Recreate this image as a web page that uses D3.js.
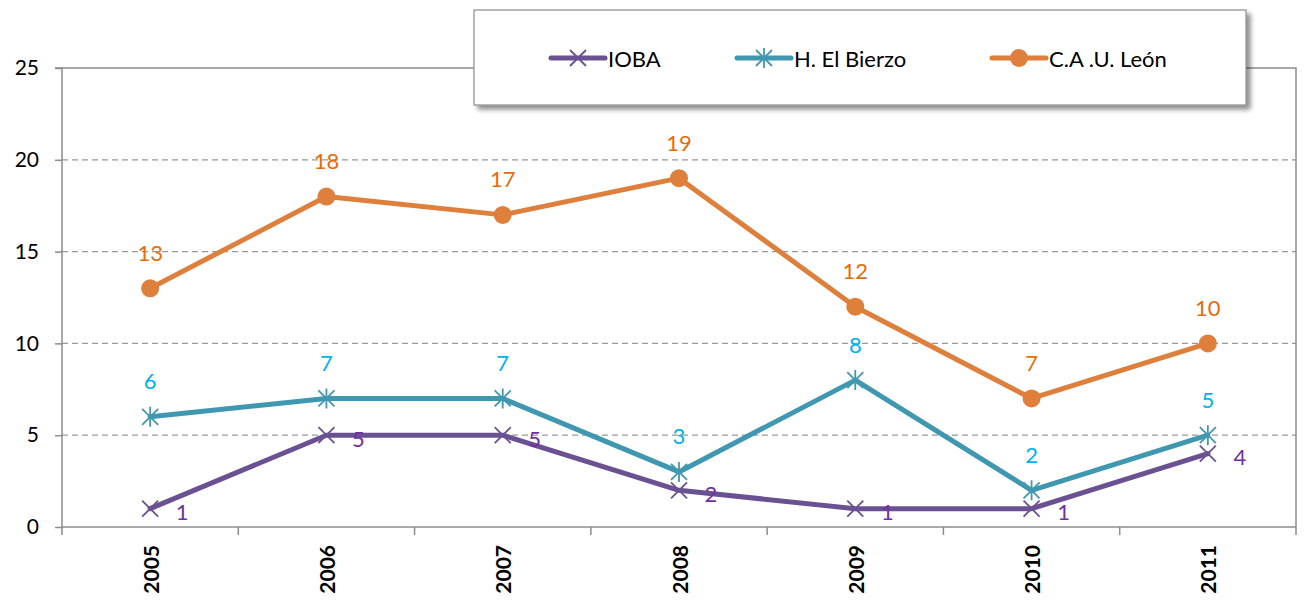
<!DOCTYPE html>
<html>
<head>
<meta charset="utf-8">
<script src="https://cdn.jsdelivr.net/npm/d3@7"></script>
<style>
  html, body { margin: 0; padding: 0; background: #fff; }
  svg { display: block; font-family: Lato, "Open Sans", sans-serif; }
</style>
</head>
<body>
<svg id="chart" width="1307" height="601"></svg>
<script>
// Yearly counts per centre
const years = ["2005", "2006", "2007", "2008", "2009", "2010", "2011"];
const ioba = [1, 5, 5, 2, 1, 1, 4];
const bierzo = [6, 7, 7, 3, 8, 2, 5];
const caul = [13, 18, 17, 19, 12, 7, 10];
const yTicks = [0, 5, 10, 15, 20, 25];

const series = [
  { name: "IOBA", values: ioba, line: "#6a5192", label: "#7030a0", marker: "x" },
  { name: "H. El Bierzo", values: bierzo, line: "#3f98b0", label: "#00b0f0", marker: "star" },
  { name: "C.A .U. León", values: caul, line: "#de7f3b", label: "#e46c0a", marker: "circle" }
];

const svg = d3.select("#chart");
const plot = { left: 62, right: 1296, top: 68, bottom: 527 };

const x = d3.scaleBand().domain(years).range([plot.left, plot.right]);
const y = d3.scaleLinear().domain([0, 25]).range([plot.bottom, plot.top]);
const cx = d => x(d) + x.bandwidth() / 2;

// dashed horizontal gridlines
svg.append("g").selectAll("line")
  .data(yTicks.filter(t => t > 0 && t < 25))
  .join("line")
  .attr("x1", plot.left).attr("x2", plot.right)
  .attr("y1", d => y(d)).attr("y2", d => y(d))
  .attr("stroke", "#999").attr("stroke-width", 1.3)
  .attr("stroke-dasharray", "6,4");

// plot frame (top and right)
svg.append("path")
  .attr("d", `M${plot.left},${plot.top}H${plot.right}V${plot.bottom + 8}`)
  .attr("fill", "none").attr("stroke", "#8c8c8c").attr("stroke-width", 1.5);

// y axis
const yAxis = svg.append("g")
  .attr("transform", `translate(${plot.left},0)`)
  .call(d3.axisLeft(y).tickValues(yTicks).tickSize(7).tickPadding(16));
yAxis.select(".domain").attr("stroke", "#8c8c8c").attr("stroke-width", 1.5)
  .attr("d", `M-7,${plot.top}H0V${plot.bottom + 8}`);
yAxis.selectAll(".tick line").attr("stroke", "#8c8c8c").attr("stroke-width", 1.5);
yAxis.selectAll(".tick text").attr("font-size", 21).attr("fill", "#000")
  .attr("font-family", "Lato, sans-serif");

// x axis with ticks between categories
const xAxis = svg.append("g").attr("transform", `translate(0,${plot.bottom})`);
xAxis.append("line").attr("x1", plot.left).attr("x2", plot.right)
  .attr("stroke", "#8c8c8c").attr("stroke-width", 1.5);
xAxis.selectAll(".sep").data(years.slice(1)).join("line")
  .attr("x1", d => x(d)).attr("x2", d => x(d))
  .attr("y1", 0).attr("y2", 8)
  .attr("stroke", "#8c8c8c").attr("stroke-width", 1.5);
xAxis.selectAll("text").data(years).join("text")
  .attr("transform", d => `translate(${cx(d)},18) rotate(-90)`)
  .attr("text-anchor", "end").attr("dominant-baseline", "central")
  .attr("font-size", 21).attr("font-weight", "bold").attr("fill", "#000")
  .text(d => d);

const line = d3.line().x((v, i) => cx(years[i])).y(v => y(v));

function drawMarker(g, type, color, px, py) {
  if (type === "x") {
    const s = 8;
    g.append("path").attr("d", `M${px - s},${py - s}L${px + s},${py + s}M${px - s},${py + s}L${px + s},${py - s}`)
      .attr("stroke", color).attr("stroke-width", 1.8).attr("fill", "none");
  } else if (type === "star") {
    const s = 8;
    g.append("path").attr("d", `M${px - s},${py - s}L${px + s},${py + s}M${px - s},${py + s}L${px + s},${py - s}M${px},${py - s - 2}L${px},${py + s + 2}`)
      .attr("stroke", color).attr("stroke-width", 1.8).attr("fill", "none");
  } else {
    g.append("circle").attr("cx", px).attr("cy", py).attr("r", 9).attr("fill", color);
  }
}

// series lines, markers and value labels
series.forEach(s => {
  const g = svg.append("g");
  g.append("path").datum(s.values).attr("d", line)
    .attr("fill", "none").attr("stroke", s.line).attr("stroke-width", 5)
    .attr("stroke-linejoin", "round").attr("stroke-linecap", "round");
  s.values.forEach((v, i) => drawMarker(g, s.marker, s.line, cx(years[i]), y(v)));
  g.selectAll("text").data(s.values).join("text")
    .attr("x", (v, i) => s.marker === "x" ? cx(years[i]) + 32 : cx(years[i]))
    .attr("y", v => s.marker === "x" ? y(v) + 3 : y(v) - 36)
    .attr("text-anchor", "middle").attr("dominant-baseline", "central")
    .attr("font-size", 22).attr("fill", s.label)
    .text(v => v);
});

// legend box with drop shadow
const defs = svg.append("defs");
const f = defs.append("filter").attr("id", "shadow").attr("x", "-5%").attr("y", "-20%").attr("width", "115%").attr("height", "150%");
f.append("feGaussianBlur").attr("in", "SourceAlpha").attr("stdDeviation", 2.5);
f.append("feOffset").attr("dx", 4).attr("dy", 4).attr("result", "b");
f.append("feComponentTransfer").append("feFuncA").attr("type", "linear").attr("slope", 0.45);
const fm = f.append("feMerge");
fm.append("feMergeNode");
fm.append("feMergeNode").attr("in", "SourceGraphic");

const legend = svg.append("g");
legend.append("rect").attr("x", 474).attr("y", 10).attr("width", 772).attr("height", 95)
  .attr("fill", "#fff").attr("stroke", "#8c8c8c").attr("stroke-width", 1.2)
  .attr("filter", "url(#shadow)");
const legendX = [551, 737, 992];
series.forEach((s, i) => {
  const lx = legendX[i], ly = 58;
  legend.append("line").attr("x1", lx).attr("x2", lx + 54).attr("y1", ly).attr("y2", ly)
    .attr("stroke", s.line).attr("stroke-width", 5).attr("stroke-linecap", "round");
  drawMarker(legend, s.marker, s.line, lx + 27, ly);
  legend.append("text").attr("x", lx + 57).attr("y", ly)
    .attr("dominant-baseline", "central").attr("font-size", 22).attr("fill", "#000")
    .text(s.name);
});
</script>
</body>
</html>
